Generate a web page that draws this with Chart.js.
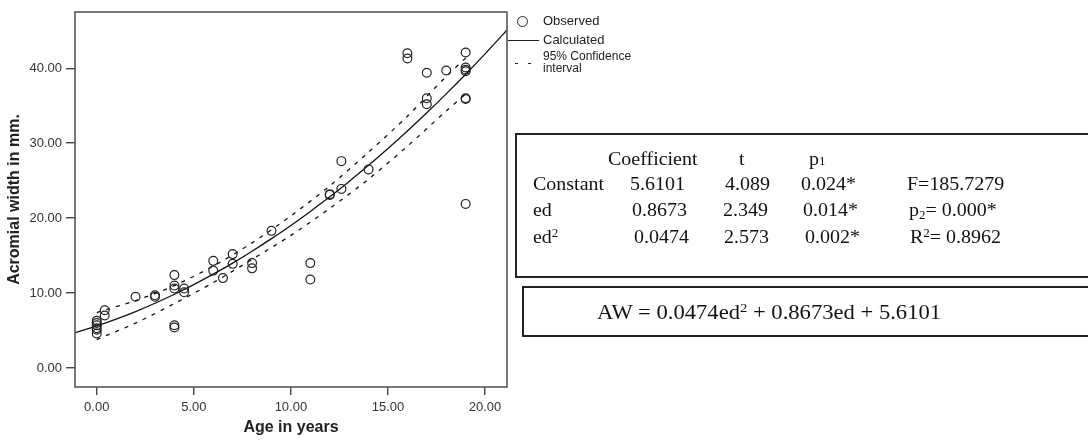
<!DOCTYPE html>
<html>
<head>
<meta charset="utf-8">
<script src="https://cdn.jsdelivr.net/npm/chart.js@4/dist/chart.umd.min.js"></script>
<style>
  html, body { margin: 0; padding: 0; background: #fff; }
  #wrap { position: relative; width: 1088px; height: 440px; overflow: hidden; }
  canvas { position: absolute; left: 0; top: 0; }
  .lg { position: absolute; font-family: "Liberation Sans", Arial, sans-serif; font-size: 13px; color: #222; line-height: 14px; white-space: nowrap; }
  .tb { position: absolute; font-family: "Liberation Serif", "Times New Roman", serif; font-size: 18px; color: #111; line-height: 18px; white-space: nowrap; transform: scaleX(1.11); transform-origin: left top; }
  .box { position: absolute; border: 2px solid #222; box-sizing: border-box; }
  sup { font-size: 0.65em; vertical-align: 0.55em; line-height: 0; }
  sub { font-size: 0.65em; vertical-align: -0.25em; line-height: 0; }
</style>
</head>
<body>
<div id="wrap">
  <canvas id="c" width="1088" height="440"></canvas>

  <!-- legend -->
  <div style="position:absolute;left:516.5px;top:16.3px;width:9px;height:9px;border:1.4px solid #222;border-radius:50%;"></div>
  <div class="lg" style="left:543px;top:14px;">Observed</div>
  <div style="position:absolute;left:508px;top:40px;width:31px;height:0;border-top:1.4px solid #222;"></div>
  <div class="lg" style="left:543px;top:33px;">Calculated</div>
  <div style="position:absolute;left:515px;top:62.5px;width:3px;height:0;border-top:1.4px solid #222;"></div>
  <div style="position:absolute;left:528px;top:62.5px;width:3px;height:0;border-top:1.4px solid #222;"></div>
  <div class="lg" style="left:543px;top:50px;font-size:12px;line-height:12px;">95% Confidence<br>interval</div>

  <!-- coefficient table -->
  <div class="box" style="left:515px;top:133px;width:600px;height:145px;"></div>
  <div class="tb" style="left:608px;top:150px;">Coefficient</div>
  <div class="tb" style="left:739px;top:150px;">t</div>
  <div class="tb" style="left:809px;top:150px;">p<span style="font-size:0.65em;">1</span></div>

  <div class="tb" style="left:533px;top:175px;">Constant</div>
  <div class="tb" style="left:630px;top:175px;">5.6101</div>
  <div class="tb" style="left:725px;top:175px;">4.089</div>
  <div class="tb" style="left:801px;top:175px;">0.024*</div>
  <div class="tb" style="left:907px;top:175px;">F=185.7279</div>

  <div class="tb" style="left:533px;top:201px;">ed</div>
  <div class="tb" style="left:632px;top:201px;">0.8673</div>
  <div class="tb" style="left:723px;top:201px;">2.349</div>
  <div class="tb" style="left:803px;top:201px;">0.014*</div>
  <div class="tb" style="left:909px;top:201px;">p<sub>2</sub>= 0.000*</div>

  <div class="tb" style="left:533px;top:228px;">ed<sup>2</sup></div>
  <div class="tb" style="left:634px;top:228px;">0.0474</div>
  <div class="tb" style="left:724px;top:228px;">2.573</div>
  <div class="tb" style="left:805px;top:228px;">0.002*</div>
  <div class="tb" style="left:910px;top:228px;">R<sup>2</sup>= 0.8962</div>

  <!-- equation box -->
  <div class="box" style="left:522px;top:286px;width:600px;height:51px;"></div>
  <div class="tb" style="left:597px;top:302px;font-size:20px;line-height:20px;transform:scaleX(1.13);">AW = 0.0474ed<sup>2</sup> + 0.8673ed + 5.6101</div>
</div>

<script>
// ---- data ----
const ageObs = [0, 0, 0, 0, 0, 0, 0.41, 0.41, 2.0, 3.0, 3.0, 4.0, 4.0, 4.0, 4.0, 4.0, 4.5, 4.5,
  6.0, 6.0, 6.5, 7.0, 7.0, 8.0, 8.0, 9.0, 11.0, 11.0, 12.0, 12.0, 12.6, 12.6, 14.0,
  16.0, 16.0, 17.0, 17.0, 17.0, 18.0, 19.0, 19.0, 19.0, 19.0, 19.0, 19.0, 19.0];
const widthObs = [6.3, 6.0, 5.7, 5.3, 5.1, 4.6, 7.7, 7.0, 9.5, 9.7, 9.5, 12.4, 11.0, 10.6, 5.7, 5.4, 10.6, 10.1,
  14.3, 13.0, 12.0, 15.2, 13.9, 14.0, 13.3, 18.3, 14.0, 11.8, 23.2, 23.1, 27.6, 23.9, 26.5,
  42.0, 41.3, 39.4, 36.0, 35.2, 39.7, 42.1, 40.1, 39.8, 39.6, 36.0, 35.9, 21.9];

const curveAge = [-1.12, 0, 1, 2, 3, 4, 5, 6, 7, 8, 9, 10, 11, 12, 13, 14, 15, 16, 17, 18, 19, 20, 21, 21.4];
const curveWidth = [4.70, 5.61, 6.52, 7.53, 8.64, 9.84, 11.13, 12.52, 14.00, 15.58, 17.26, 19.02, 20.89,
  22.84, 24.90, 27.04, 29.29, 31.62, 34.05, 36.58, 39.20, 41.92, 44.73, 45.88];

const ciAge   = [0, 2, 4, 6, 8, 10, 12, 14, 16, 18, 19.1];
const ciUpper = [7.4, 9.0, 11.0, 13.6, 16.7, 20.3, 24.3, 28.8, 33.6, 38.9, 41.6];
const ciLower = [3.8, 6.0, 8.6, 11.4, 14.5, 17.7, 21.3, 25.2, 29.6, 34.3, 36.8];

const xTicks = [0, 5, 10, 15, 20];
const yTicks = [0, 10, 20, 30, 40];
const xTitle = 'Age in years';
const yTitle = 'Acromial width in mm.';

// ---- build datasets ----
const pts = (xs, ys) => xs.map((x, i) => ({ x: x, y: ys[i] }));

const framePlugin = {
  id: 'frame',
  afterDatasetsDraw(chart) {
    const a = chart.chartArea, ctx = chart.ctx;
    ctx.save();
    ctx.strokeStyle = '#555';
    ctx.lineWidth = 1.6;
    ctx.strokeRect(a.left, a.top, a.right - a.left, a.bottom - a.top);
    ctx.restore();
  }
};

const tickFont = { family: '"Liberation Sans", Arial, sans-serif', size: 13 };
const titleFont = { family: '"Liberation Sans", Arial, sans-serif', size: 16, weight: 'bold' };

new Chart(document.getElementById('c'), {
  type: 'scatter',
  data: {
    datasets: [
      {
        label: 'Observed',
        data: pts(ageObs, widthObs),
        pointStyle: 'circle',
        pointRadius: 4.4,
        pointBorderWidth: 1.2,
        pointBorderColor: '#222',
        pointBackgroundColor: 'rgba(255,255,255,0)',
        showLine: false,
        order: 0
      },
      {
        label: 'Calculated',
        data: pts(curveAge, curveWidth),
        showLine: true,
        borderColor: '#111',
        borderWidth: 1.3,
        pointRadius: 0,
        tension: 0.3,
        order: 1
      },
      {
        label: 'Upper 95%',
        data: pts(ciAge, ciUpper),
        showLine: true,
        borderColor: '#111',
        borderWidth: 1.3,
        borderDash: [4, 6],
        pointRadius: 0,
        tension: 0.3,
        order: 2
      },
      {
        label: 'Lower 95%',
        data: pts(ciAge, ciLower),
        showLine: true,
        borderColor: '#111',
        borderWidth: 1.3,
        borderDash: [4, 6],
        pointRadius: 0,
        tension: 0.3,
        order: 3
      }
    ]
  },
  options: {
    responsive: false,
    animation: false,
    devicePixelRatio: 1,
    layout: { padding: { left: 0, top: 12, right: 581, bottom: 0 } },
    plugins: { legend: { display: false }, tooltip: { enabled: false } },
    scales: {
      x: {
        type: 'linear',
        min: -1.12,
        max: 21.13,
        afterBuildTicks: s => { s.ticks = xTicks.map(v => ({ value: v })); },
        afterFit: s => { s.height = 53; },
        grid: { drawOnChartArea: false, drawTicks: true, tickLength: 8, color: '#444', lineWidth: 1.4 },
        border: { display: false },
        ticks: { font: tickFont, color: '#333', padding: 5, maxRotation: 0, callback: v => Number(v).toFixed(2) },
        title: { display: true, text: xTitle, font: titleFont, color: '#222', padding: { top: 0, bottom: 3 } }
      },
      y: {
        type: 'linear',
        min: -2.53,
        max: 47.5,
        afterBuildTicks: s => { s.ticks = yTicks.map(v => ({ value: v })); },
        afterFit: s => { s.width = 75; },
        grid: { drawOnChartArea: false, drawTicks: true, tickLength: 9, color: '#444', lineWidth: 1.4 },
        border: { display: false },
        ticks: { font: tickFont, color: '#333', padding: 4, callback: v => Number(v).toFixed(2) },
        title: { display: true, text: yTitle, font: titleFont, color: '#222', padding: { top: 5, bottom: 0 } }
      }
    }
  },
  plugins: [framePlugin]
});
</script>
</body>
</html>
